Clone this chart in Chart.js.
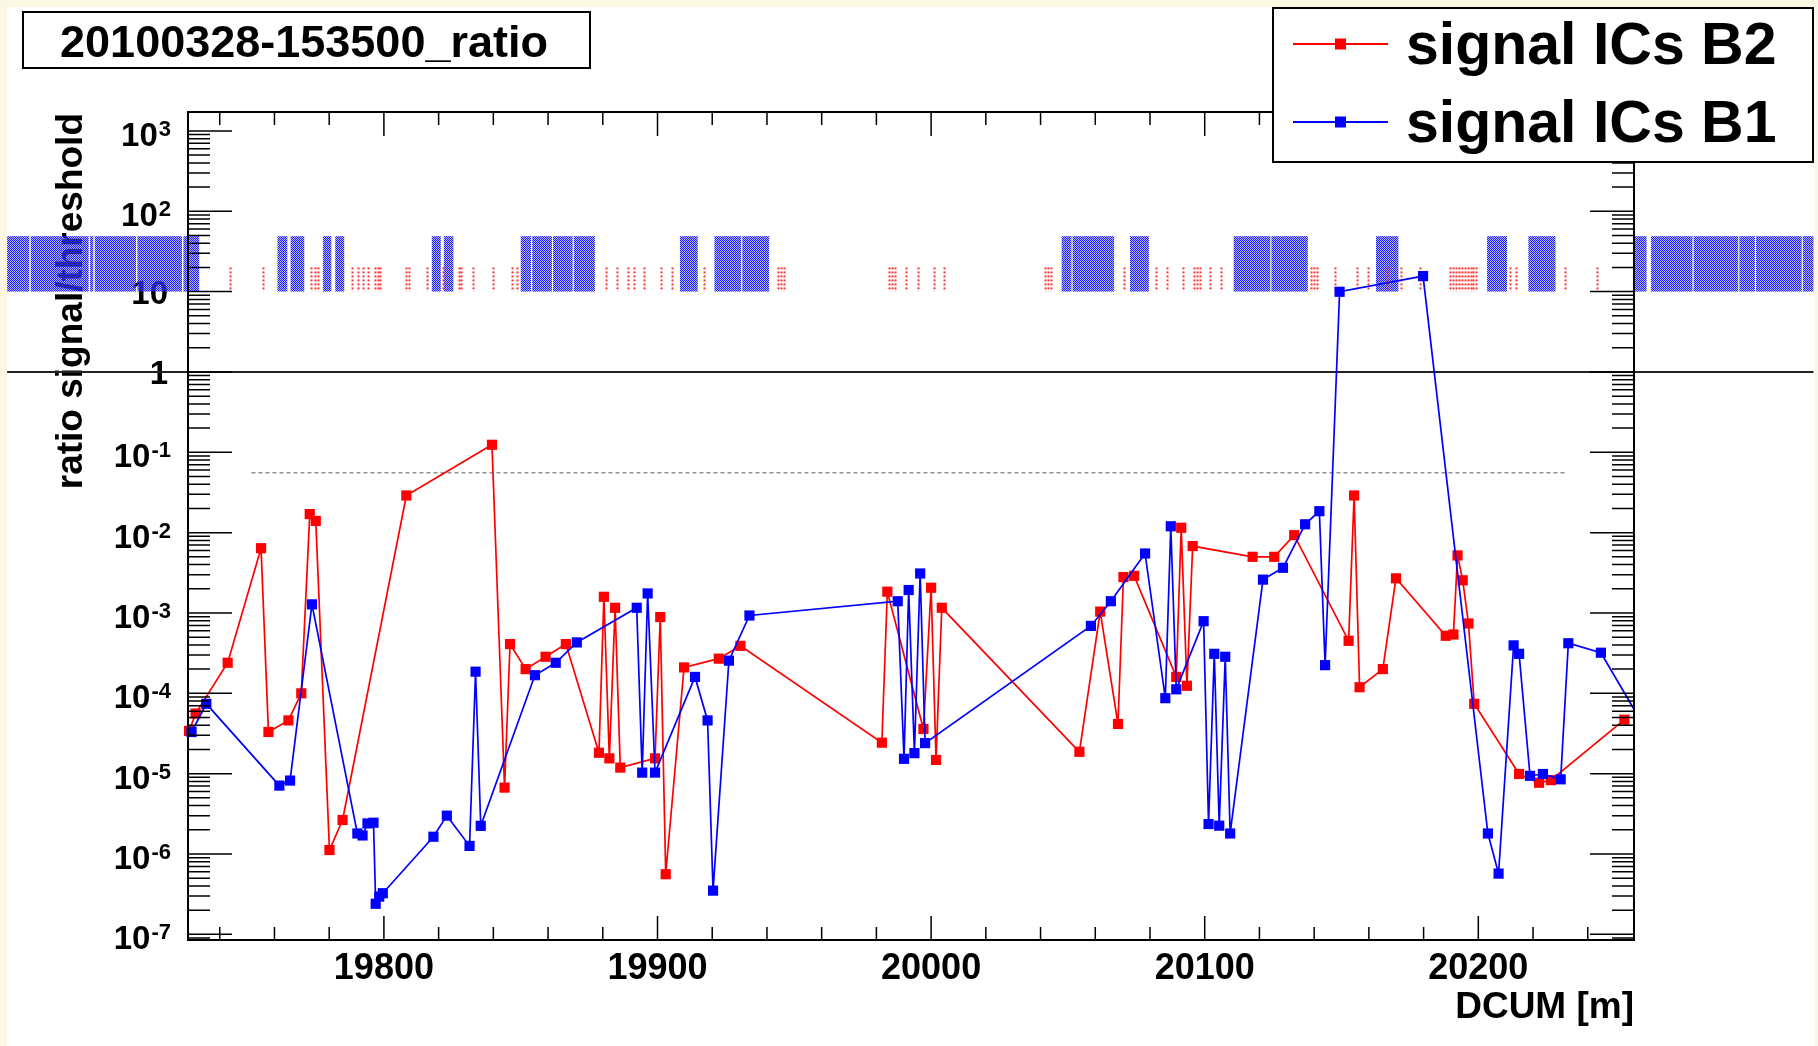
<!DOCTYPE html>
<html>
<head>
<meta charset="utf-8">
<title>20100328-153500_ratio</title>
<script src="https://cdn.jsdelivr.net/npm/chart.js@4.4.1/dist/chart.umd.min.js"></script>
<style>
  html, body { margin: 0; padding: 0; width: 1818px; height: 1046px; overflow: hidden; background: #fdf6e3; }
  #cadre { position: absolute; left: 7px; top: 7px; width: 1808px; height: 1039px; background: #fff; }
  canvas { display: block; }
</style>
</head>
<body>
<div id="cadre"><canvas id="grafico" width="1808" height="1039"></canvas></div>
<script>
// ==========================
// Data
// ==========================
const titre = "20100328-153500_ratio";
const xTitle = "DCUM [m]";
const yTitle = "ratio signal/threshold";
const legendLabels = ["signal ICs B2", "signal ICs B1"];

const xMin = 19728.4, xMax = 20256.9;
const yMin = 8.5e-8, yMax = 1720;

const xTickLabels = ["19800", "19900", "20000", "20100", "20200"];
const yExponents = [3, 2, 1, 0, -1, -2, -3, -4, -5, -6, -7];

// signal ICs B2 (red)
const dcumB2 = [19728.8, 19731.2, 19742.9, 19755.1, 19757.8, 19765.1, 19769.8, 19772.9, 19775.1, 19780.1,
  19784.9, 19808.2, 19839.5, 19844.1, 19846.1, 19851.8, 19859.1, 19866.5, 19878.6, 19880.4,
  19882.4, 19884.5, 19886.4, 19899.1, 19901.0, 19903.0, 19909.7, 19922.4, 19930.3, 19982.0,
  19984.0, 19997.2, 20000.0, 20001.8, 20003.9, 20054.2, 20061.8, 20068.3, 20070.3, 20074.2,
  20089.6, 20091.4, 20093.5, 20095.6, 20117.5, 20125.4, 20132.7, 20152.6, 20154.6, 20156.6,
  20165.1, 20169.9, 20188.1, 20190.9, 20192.4, 20194.3, 20196.4, 20198.5, 20214.9, 20222.2,
  20226.5, 20253.4];
const ratioB2 = [3.4e-5, 5.6e-5, 2.4e-4, 6.4e-3, 3.3e-5, 4.6e-5, 1.0e-4, 1.7e-2, 1.4e-2, 1.12e-6,
  2.65e-6, 2.9e-2, 0.124, 6.7e-6, 4.1e-4, 2.0e-4, 2.85e-4, 4.1e-4, 1.82e-5, 1.59e-3,
  1.55e-5, 1.16e-3, 1.19e-5, 1.55e-5, 8.9e-4, 5.6e-7, 2.1e-4, 2.7e-4, 3.9e-4, 2.43e-5,
  1.84e-3, 3.6e-5, 2.06e-3, 1.48e-5, 1.16e-3, 1.87e-5, 1.04e-3, 4.15e-5, 2.8e-3, 2.9e-3,
  1.6e-4, 1.15e-2, 1.24e-4, 6.8e-3, 5.0e-3, 5.0e-3, 9.3e-3, 4.5e-4, 2.9e-2, 1.19e-4,
  2.0e-4, 2.7e-3, 5.2e-4, 5.4e-4, 5.2e-3, 2.55e-3, 7.4e-4, 7.4e-5, 9.9e-6, 7.7e-6,
  8.3e-6, 4.7e-5];

// signal ICs B1 (blue)
const dcumB1 = [19729.7, 19735.1, 19761.8, 19765.7, 19773.7, 19790.3, 19792.2, 19794.0, 19796.2, 19797.0,
  19798.3, 19799.6, 19818.1, 19823.0, 19831.3, 19833.5, 19835.4, 19855.2, 19862.8, 19870.5,
  19892.4, 19894.4, 19896.4, 19899.1, 19913.7, 19918.3, 19920.3, 19926.1, 19933.6, 19987.8,
  19990.1, 19991.8, 19993.9, 19996.0, 19997.8, 20058.4, 20065.7, 20078.2, 20085.6, 20087.6,
  20089.6, 20099.6, 20101.4, 20103.5, 20105.3, 20107.5, 20109.3, 20121.3, 20128.6, 20136.7,
  20141.9, 20144.0, 20149.3, 20179.8, 20203.5, 20207.4, 20212.9, 20214.9, 20218.9, 20223.6,
  20230.1, 20232.9, 20244.8, 20262.0];
const ratioB1 = [3.3e-5, 7.4e-5, 7.1e-6, 8.2e-6, 1.28e-3, 1.8e-6, 1.7e-6, 2.4e-6, 2.45e-6, 2.4e-7,
  2.95e-7, 3.25e-7, 1.64e-6, 3.0e-6, 1.26e-6, 1.86e-4, 2.24e-6, 1.68e-4, 2.4e-4, 4.3e-4,
  1.16e-3, 1.03e-5, 1.75e-3, 1.03e-5, 1.6e-4, 4.6e-5, 3.5e-7, 2.55e-4, 9.3e-4, 1.4e-3,
  1.53e-5, 1.93e-3, 1.8e-5, 3.1e-3, 2.4e-5, 6.9e-4, 1.4e-3, 5.5e-3, 8.7e-5, 1.2e-2,
  1.12e-4, 7.9e-4, 2.36e-6, 3.1e-4, 2.25e-6, 2.85e-4, 1.8e-6, 2.6e-3, 3.65e-3, 1.27e-2,
  1.85e-2, 2.24e-4, 9.95, 15.6, 1.8e-6, 5.7e-7, 3.95e-4, 3.1e-4, 9.4e-6, 9.9e-6,
  8.5e-6, 4.2e-4, 3.2e-4, 3.2e-5];

// grey dotted level
const niveauDcum = [19751.6, 20231.8];
const niveauRatio = [0.0556, 0.0556];

// monitor boxes near the top (B1 blue hatched boxes, B2 red dotted marks)
const bandeBasse = 10, bandeHauteB1 = 49, bandeHauteB2 = 20;
const boitesB1 = [[19662.3, 19670.4], [19670.9, 19692.1], [19692.6, 19693.8], [19694.3, 19709.4],
  [19709.9, 19726.2], [19726.7, 19732.5], [19761.1, 19764.7], [19765.9, 19770.9], [19777.7, 19780.8],
  [19782.2, 19785.5], [19817.5, 19820.8], [19821.9, 19825.4], [19850.0, 19853.8], [19854.2, 19861.4],
  [19861.8, 19869.0], [19869.4, 19877.1], [19908.2, 19914.7], [19920.8, 19930.6], [19931.0, 19940.8],
  [20047.7, 20051.3], [20051.7, 20066.9], [20072.7, 20079.6], [20110.6, 20124.0], [20124.4, 20137.7],
  [20162.6, 20170.8], [20203.2, 20210.5], [20218.3, 20228.2], [20257.0, 20261.5], [20263.1, 20278.3],
  [20278.7, 20295.0], [20295.4, 20301.1], [20301.5, 20318.2], [20318.6, 20322.5]];
const marquesB2 = [19743.9, 19755.9, 19773.5, 19774.7, 19775.9, 19788.3, 19790.5, 19792.3, 19794.3,
  19796.7, 19797.7, 19798.7, 19808.2, 19809.1, 19815.7, 19821.5, 19827.6, 19828.3, 19832.4, 19839.7,
  19846.8, 19848.7, 19881.2, 19885.3, 19889.3, 19891.3, 19895.2, 19901.3, 19905.3, 19916.9, 19943.9,
  19945.1, 19946.2, 19984.5, 19985.7, 19986.8, 19991.0, 19995.1, 20000.9, 20004.8, 20041.6, 20042.8,
  20043.9, 20070.5, 20082.1, 20086.1, 20092.2, 20096.1, 20097.3, 20098.4, 20102.0, 20105.9, 20138.9,
  20139.9, 20140.9, 20147.8, 20155.8, 20159.7, 20166.6, 20171.7, 20178.8, 20189.5, 20190.6, 20191.7,
  20192.8, 20193.9, 20195.0, 20196.1, 20197.2, 20198.2, 20199.3, 20211.7, 20213.9, 20231.6, 20243.4];

// horizontal line at ratio = 1
const ligneUn = { de: 19662.3, a: 20322.5, valeur: 1 };

const ROUGE = "#ff0000", BLEU = "#0000ff";
const POLICE = '"Liberation Sans", Arial, Helvetica, sans-serif';

// ==========================
// Helpers
// ==========================
function motifBleu(ctx) {
  const c = document.createElement("canvas");
  c.width = 2; c.height = 2;
  const p = c.getContext("2d");
  p.fillStyle = "#2020ff";
  p.fillRect(0, 0, 1, 1); p.fillRect(1, 1, 1, 1);
  p.fillStyle = "rgba(90,90,255,0.45)";
  p.fillRect(1, 0, 1, 1); p.fillRect(0, 1, 1, 1);
  return ctx.createPattern(c, "repeat");
}

function labelY(ctx, exp, py) {
  ctx.textBaseline = "alphabetic";
  ctx.textAlign = "left";
  if (exp === 0 || exp === 1) {
    const t = exp === 0 ? "1" : "10";
    ctx.font = "bold 33px " + POLICE;
    const w = ctx.measureText(t).width;
    ctx.fillText(t, 161 - w, py + 12);
    return;
  }
  const sup = String(exp);
  ctx.font = "bold 22px " + POLICE;
  const ws = ctx.measureText(sup).width;
  ctx.font = "bold 33px " + POLICE;
  const wb = ctx.measureText("10").width;
  const x0 = 164 - ws - wb - 1;
  ctx.fillText("10", x0, py + 15);
  ctx.font = "bold 22px " + POLICE;
  ctx.fillText(sup, x0 + wb + 1, py + 5);
}

// ==========================
// Plugin: ROOT style frame, boxes and texts
// ==========================
const decorPlugin = {
  id: "decor",
  beforeDatasetsDraw(chart) {
    const { ctx, chartArea: a } = chart;
    const x = chart.scales.x, y = chart.scales.y;
    ctx.save();
    ctx.fillStyle = "#000";

    // title box
    ctx.fillStyle = "#fff";
    ctx.fillRect(16, 5, 567, 56);
    ctx.strokeStyle = "#000";
    ctx.lineWidth = 2;
    ctx.strokeRect(16, 5, 567, 56);
    ctx.fillStyle = "#000";
    ctx.font = "bold 45px " + POLICE;
    ctx.textAlign = "center";
    ctx.textBaseline = "alphabetic";
    ctx.fillText(titre, 297, 50);

    // y tick labels
    yExponents.forEach((e) => labelY(ctx, e, y.getPixelForValue(Math.pow(10, e))));

    // x tick labels
    ctx.font = "bold 36px " + POLICE;
    ctx.textAlign = "center";
    xTickLabels.forEach((t) => ctx.fillText(t, x.getPixelForValue(Number(t)), 972));

    // axis titles
    ctx.font = "bold 37px " + POLICE;
    ctx.textAlign = "right";
    ctx.fillText(xTitle, a.right, 1011);
    ctx.save();
    ctx.translate(75, 106);
    ctx.rotate(-Math.PI / 2);
    ctx.textAlign = "right";
    ctx.fillText(yTitle, 0, 0);
    ctx.restore();

    // blue hatched boxes
    const yb = y.getPixelForValue(bandeBasse);
    const yh1 = y.getPixelForValue(bandeHauteB1);
    const yh2 = y.getPixelForValue(bandeHauteB2);
    ctx.fillStyle = motifBleu(ctx);
    boitesB1.forEach(([d, f]) => {
      const x1 = x.getPixelForValue(d), x2 = x.getPixelForValue(f);
      ctx.fillRect(x1, yh1, x2 - x1, yb - yh1);
    });

    // red dotted marks
    ctx.strokeStyle = "rgba(255,30,30,0.9)";
    ctx.lineWidth = 2;
    ctx.setLineDash([2, 2]);
    marquesB2.forEach((v) => {
      const px = Math.round(x.getPixelForValue(v)) + 0.5;
      ctx.beginPath();
      ctx.moveTo(px, yh2);
      ctx.lineTo(px, yb);
      ctx.stroke();
    });
    ctx.setLineDash([]);

    // line at 1
    const y1 = y.getPixelForValue(ligneUn.valeur);
    ctx.strokeStyle = "#222";
    ctx.lineWidth = 2;
    ctx.beginPath();
    ctx.moveTo(x.getPixelForValue(ligneUn.de), y1);
    ctx.lineTo(x.getPixelForValue(ligneUn.a), y1);
    ctx.stroke();
    ctx.restore();
  },

  afterDatasetsDraw(chart) {
    const { ctx, chartArea: a } = chart;
    const x = chart.scales.x, y = chart.scales.y;
    ctx.save();
    ctx.strokeStyle = "#000";
    ctx.lineWidth = 2;
    ctx.strokeRect(a.left, a.top, a.right - a.left, a.bottom - a.top);

    // x ticks, bottom and top, pointing inwards
    ctx.lineWidth = 1.5;
    ctx.beginPath();
    for (let v = 19740; v <= 20240; v += 20) {
      const px = x.getPixelForValue(v);
      const len = v % 100 === 0 ? 24 : 13;
      ctx.moveTo(px, a.bottom); ctx.lineTo(px, a.bottom - len);
      ctx.moveTo(px, a.top); ctx.lineTo(px, a.top + len);
    }
    // y ticks, left and right
    for (let e = -8; e <= 3; e++) {
      for (let m = 1; m <= 9; m++) {
        const v = m * Math.pow(10, e);
        if (v < yMin || v > yMax) continue;
        const py = y.getPixelForValue(v);
        const len = m === 1 ? 44 : 22;
        ctx.moveTo(a.left, py); ctx.lineTo(a.left + len, py);
        ctx.moveTo(a.right, py); ctx.lineTo(a.right - len, py);
      }
    }
    ctx.stroke();
    ctx.restore();
  },

  afterDraw(chart) {
    const { ctx } = chart;
    ctx.save();
    // legend box
    ctx.fillStyle = "#fff";
    ctx.fillRect(1266, 1, 540, 154);
    ctx.strokeStyle = "#000";
    ctx.lineWidth = 2;
    ctx.strokeRect(1266, 1, 540, 154);
    const lignes = [{ y: 37, base: 57, c: ROUGE }, { y: 115, base: 135, c: BLEU }];
    ctx.font = "bold 59px " + POLICE;
    ctx.textAlign = "left";
    ctx.textBaseline = "alphabetic";
    lignes.forEach((l, i) => {
      ctx.strokeStyle = l.c;
      ctx.lineWidth = 2;
      ctx.beginPath();
      ctx.moveTo(1286, l.y); ctx.lineTo(1381, l.y);
      ctx.stroke();
      ctx.fillStyle = l.c;
      ctx.fillRect(1328, l.y - 5.5, 11, 11);
      ctx.fillStyle = "#000";
      ctx.fillText(legendLabels[i], 1399, l.base);
    });
    ctx.restore();
  }
};

// ==========================
// Chart
// ==========================
const ctx = document.getElementById("grafico").getContext("2d");
new Chart(ctx, {
  type: "line",
  data: {
    datasets: [
      {
        label: legendLabels[1],
        data: dcumB1.map((d, i) => ({ x: d, y: ratioB1[i] })),
        borderColor: BLEU,
        backgroundColor: BLEU,
        pointBackgroundColor: BLEU,
        borderWidth: 1.7,
        pointStyle: "rect",
        pointRadius: 7.2,
        pointBorderWidth: 0,
        tension: 0,
        clip: { left: 8, top: 8, right: 0, bottom: 8 },
      },
      {
        label: legendLabels[0],
        data: dcumB2.map((d, i) => ({ x: d, y: ratioB2[i] })),
        borderColor: ROUGE,
        backgroundColor: ROUGE,
        pointBackgroundColor: ROUGE,
        borderWidth: 1.7,
        pointStyle: "rect",
        pointRadius: 7.2,
        pointBorderWidth: 0,
        tension: 0,
        clip: 8,
      },
      {
        label: "niveau",
        data: niveauDcum.map((d, i) => ({ x: d, y: niveauRatio[i] })),
        borderColor: "rgba(110,110,110,0.75)",
        borderWidth: 1.5,
        borderDash: [4, 3],
        pointRadius: 0,
        tension: 0,
      },
    ],
  },
  options: {
    responsive: false,
    animation: false,
    layout: { padding: { left: 181, right: 181, top: 105, bottom: 106 } },
    scales: {
      x: { type: "linear", min: xMin, max: xMax, display: false },
      y: { type: "logarithmic", min: yMin, max: yMax, display: false },
    },
    plugins: { legend: { display: false }, tooltip: { enabled: false } },
  },
  plugins: [decorPlugin],
});
</script>
</body>
</html>
